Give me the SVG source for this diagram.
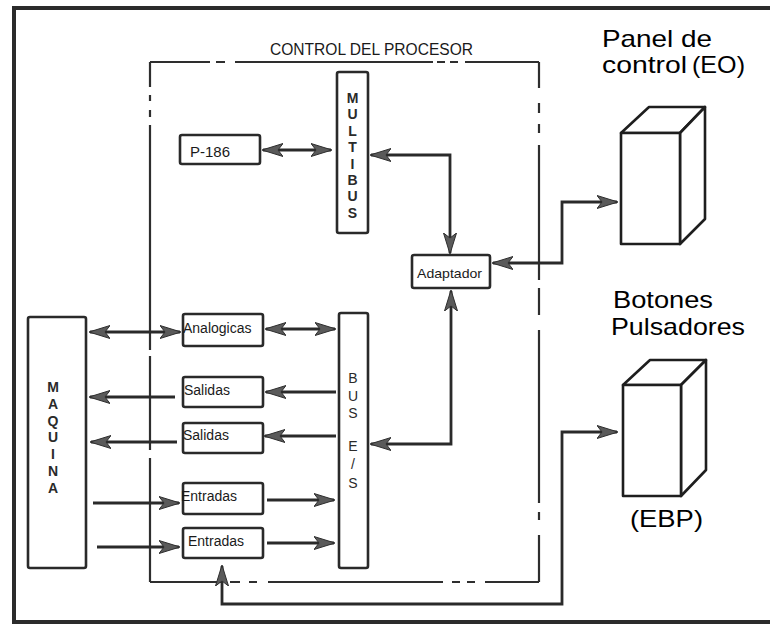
<svg xmlns="http://www.w3.org/2000/svg" width="770" height="627" viewBox="0 0 770 627">
<defs>
<style>
.frame{fill:none;stroke:#2b2b2b;stroke-width:4}
.box{fill:#fff;stroke:#2a2a2a;stroke-width:2.6}
.dd{fill:none;stroke:#2e2e2e;stroke-width:2.2}
.con{fill:none;stroke:#2a2a2a;stroke-width:2.8;stroke-linejoin:miter}
.cube{fill:#fff;stroke:#1e1e1e;stroke-width:2.6;stroke-linejoin:round}
.t{font-family:"Liberation Sans",Arial,sans-serif;fill:#1a1a1a}
.v{font-family:"Liberation Sans",Arial,sans-serif;fill:#2a2a2a;font-size:14px;text-anchor:middle}
.b{font-weight:bold}
.big{font-family:"Liberation Sans",Arial,sans-serif;font-size:24px;fill:#000}
</style>
<marker id="ah" viewBox="0 0 21 15" refX="20" refY="7.5" markerWidth="21" markerHeight="15" markerUnits="userSpaceOnUse" orient="auto-start-reverse">
<path d="M0,1 L21,7.5 L0,14 L5,7.5 z" fill="#5a5a5a" stroke="#2e2e2e" stroke-width="1"/>
</marker>
</defs>
<rect width="770" height="627" fill="#fff"/>

<g id="outer-frame">
<path class="frame" d="M770,8 H14 V622 H770"/>
</g>

<g id="procesor-frame">
<path class="dd" d="M150,62 H210 M216,62 H225 M235,62 H433 M437,62 H445 M450,62 H458 M465,62 H539
M539,62 V88 M539,103 V113 M539,124 V133 M539,145 V280 M539,288 V315 M539,330 V503 M539,512 V520 M539,535 V582
M150,62 V87 M150,95 V101 M150,110 V117 M150,125 V350 M150,356 V450 M150,458 V582
M150,582 H222 M230,582 H240 M249,582 H257 M268,582 H443 M452,582 H460 M467,582 H475 M485,582 H539"/>
<text class="t" x="270" y="55" font-size="16" textLength="203" lengthAdjust="spacingAndGlyphs">CONTROL DEL PROCESOR</text>
</g>

<g id="p186">
<rect class="box" x="180" y="135" width="80" height="29" rx="2"/>
<text class="t" x="190" y="157" font-size="15">P-186</text>
</g>

<g id="multibus">
<rect class="box" x="337" y="72" width="31" height="161" rx="2"/>
<g class="v b">
<text x="352.5" y="103">M</text><text x="352.5" y="119.4">U</text><text x="352.5" y="135.8">L</text><text x="352.5" y="152.2">T</text><text x="352.5" y="168.6">I</text><text x="352.5" y="185">B</text><text x="352.5" y="201.4">U</text><text x="352.5" y="217.8">S</text>
</g>
</g>

<g id="adaptador">
<rect class="box" x="412" y="255" width="78" height="33" rx="2"/>
<text class="t" x="417" y="278" font-size="13.5" textLength="65" lengthAdjust="spacingAndGlyphs">Adaptador</text>
</g>

<g id="maquina">
<rect class="box" x="28" y="317" width="58" height="251" rx="2"/>
<g class="v b">
<text x="53" y="392">M</text><text x="53" y="408.8">A</text><text x="53" y="425.6">Q</text><text x="53" y="442.4">U</text><text x="53" y="459.2">I</text><text x="53" y="476">N</text><text x="53" y="492.8">A</text>
</g>
</g>

<g id="analogicas">
<rect class="box" x="183" y="314" width="80" height="32" rx="2"/>
<text class="t" x="183" y="333" font-size="14">Analogicas</text>
</g>

<g id="salidas1">
<rect class="box" x="183" y="377" width="80" height="30" rx="2"/>
<text class="t" x="184" y="395" font-size="14">Salidas</text>
</g>

<g id="salidas2">
<rect class="box" x="183" y="423" width="80" height="30" rx="2"/>
<text class="t" x="183" y="440" font-size="14">Salidas</text>
</g>

<g id="entradas1">
<rect class="box" x="183" y="483" width="80" height="31" rx="2"/>
<text class="t" x="181" y="501" font-size="14">Entradas</text>
</g>

<g id="entradas2">
<rect class="box" x="183" y="528" width="80" height="30" rx="2"/>
<text class="t" x="188" y="546" font-size="14">Entradas</text>
</g>

<g id="bus-es">
<rect class="box" x="339" y="313" width="29" height="255" rx="2"/>
<g class="v">
<text x="353" y="383">B</text><text x="353" y="401">U</text><text x="353" y="418">S</text><text x="353" y="451">E</text><text x="353" y="469">/</text><text x="353" y="488">S</text>
</g>
</g>

<g id="panel-control">
<path class="cube" d="M621,133 L649,107 L705,107 L680,133 Z"/>
<path class="cube" d="M680,133 L705,107 L705,219 L680,244 Z"/>
<rect class="cube" x="621" y="133" width="59" height="111"/>
<text class="big" x="602" y="47" font-size="23" textLength="110" lengthAdjust="spacingAndGlyphs">Panel de</text>
<text class="big" x="602" y="73" font-size="23" textLength="85" lengthAdjust="spacingAndGlyphs">control</text>
<text class="big" x="692" y="73" font-size="23" textLength="53" lengthAdjust="spacingAndGlyphs">(EO)</text>
</g>

<g id="botones-pulsadores">
<path class="cube" d="M623,385 L650,360 L706,360 L681,385 Z"/>
<path class="cube" d="M681,385 L706,360 L706,470 L681,496 Z"/>
<rect class="cube" x="623" y="385" width="58" height="111"/>
<text class="big" x="613" y="308" textLength="100" lengthAdjust="spacingAndGlyphs">Botones</text>
<text class="big" x="611" y="335" textLength="134" lengthAdjust="spacingAndGlyphs">Pulsadores</text>
<text class="big" x="630" y="527" font-size="25" textLength="73" lengthAdjust="spacingAndGlyphs">(EBP)</text>
</g>

<g id="connectors">
<path class="con" d="M263,150 H331" marker-start="url(#ah)" marker-end="url(#ah)"/>
<path class="con" d="M371,155 H450 V253" marker-start="url(#ah)" marker-end="url(#ah)"/>
<path class="con" d="M493,263 H562 V202 H617" marker-start="url(#ah)" marker-end="url(#ah)"/>
<path class="con" d="M451,291 V444 H371" marker-start="url(#ah)" marker-end="url(#ah)"/>
<path class="con" d="M90,332 H180" marker-start="url(#ah)" marker-end="url(#ah)"/>
<path class="con" d="M266,329 H335" marker-start="url(#ah)" marker-end="url(#ah)"/>
<path class="con" d="M336,392 H266" marker-end="url(#ah)"/>
<path class="con" d="M175,397 H90" marker-end="url(#ah)"/>
<path class="con" d="M336,436 H265" marker-end="url(#ah)"/>
<path class="con" d="M177,442 H91" marker-end="url(#ah)"/>
<path class="con" d="M93,503 H179" marker-end="url(#ah)"/>
<path class="con" d="M267,500 H334" marker-end="url(#ah)"/>
<path class="con" d="M97,547 H179" marker-end="url(#ah)"/>
<path class="con" d="M267,543 H334" marker-end="url(#ah)"/>
<path class="con" d="M222,566 V604 H562 V432 H617" marker-start="url(#ah)" marker-end="url(#ah)"/>
</g>
</svg>
